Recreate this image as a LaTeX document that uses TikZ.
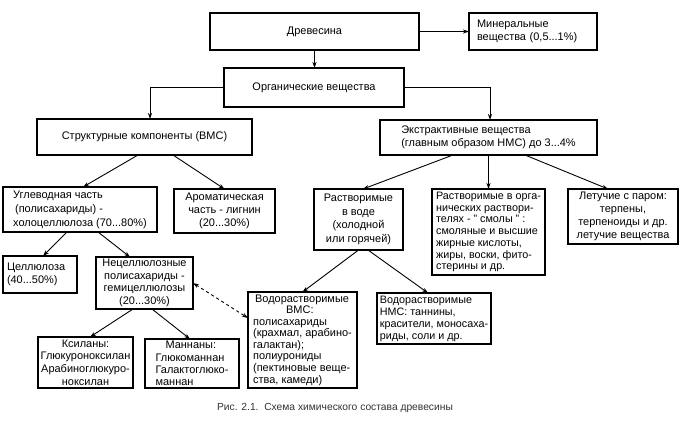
\documentclass[tikz,border=0pt]{standalone}
\usepackage{fontspec}
\setmainfont{Liberation Sans}
\usetikzlibrary{arrows.meta}
\begin{document}
\begin{tikzpicture}[x=1bp,y=-1bp,
 box/.style={draw, line width=1.1bp, inner sep=0pt, outer sep=0pt, anchor=north west, align=center, font=\fontsize{11}{12.5}\selectfont},
 lbox/.style={box, align=left},
 arr/.style={-{Stealth[length=6bp,width=4bp]}, line width=0.9bp},
 darr/.style={{Stealth[length=6bp,width=4bp]}-{Stealth[length=6bp,width=4bp]}, line width=0.9bp, dashed},
]
\useasboundingbox (0,0) rectangle (680,422);
% level 0
\node[box, minimum width=209bp, minimum height=37bp] (drev) at (210,13) {Древесина};
\node[lbox, minimum height=37bp, text width=112bp, inner xsep=8bp] (min) at (469,13) {Минеральные\\вещества (0,5...1\%)};
\node[box, minimum width=180bp, minimum height=39bp] (org) at (224,68) {Органические вещества};
% level 1
\node[box, minimum width=215bp, minimum height=36bp] (str) at (37,119) {Структурные компоненты (ВМС)};
\node[lbox, minimum width=217bp, minimum height=35bp] (ext) at (380,120) {Экстрактивные вещества\\(главным образом НМС) до 3...4\%};
% level 2 left
\node[lbox, minimum width=154bp, minimum height=45bp, font=\fontsize{11}{14}\selectfont] (ugl) at (3,187) {Углеводная часть\\\hspace*{2bp}(полисахариды) -\\холоцеллюлоза (70...80\%)};
\node[box, minimum width=101bp, minimum height=44bp, font=\fontsize{11}{13}\selectfont] (arom) at (174,189) {Ароматическая\\часть - лигнин\\(20...30\%)};
% level 2 right
\node[box, minimum width=89bp, minimum height=61bp, font=\fontsize{11}{13.5}\selectfont] (rv) at (314,189) {Растворимые\\в воде\\(холодной\\или горячей)};
\node[lbox, minimum width=113bp, minimum height=86bp, font=\fontsize{10.8}{11.8}\selectfont] (ro) at (432,189) {Растворимые в орга-\\нических раствори-\\телях - " смолы " :\\смоляные и высшие\\жирные кислоты,\\жиры, воски, фито-\\стерины и др.};
\node[box, minimum width=110bp, minimum height=55bp, font=\fontsize{11}{13}\selectfont] (let) at (568,189) {Летучие с паром:\\терпены,\\терпеноиды и др.\\летучие вещества};
% level 3 left
\node[lbox, minimum height=37bp, text width=66bp, inner xsep=4bp] (cell) at (3,256) {Целлюлоза\\(40...50\%)};
\node[box, minimum width=97bp, minimum height=52bp, font=\fontsize{11}{12.5}\selectfont] (necell) at (96,257) {Нецеллюлозные\\полисахариды -\\гемицеллюлозы\\(20...30\%)};
% level 3 right
\node[lbox, minimum width=109bp, minimum height=96bp, font=\fontsize{11}{11.6}\selectfont] (vms) at (248,292) {\hspace*{2bp}Водорастворимые\\\hspace*{33bp}ВМС:\\полисахариды\\(крахмал, арабино-\\галактан);\\полиурониды\\(пектиновые веще-\\ства, камеди)};
\node[lbox, minimum width=114bp, minimum height=51bp, font=\fontsize{10.8}{12}\selectfont] (nms) at (377,293) {Водорастворимые\\НМС: таннины,\\красители, моносаха-\\риды, соли и др.};
% level 4
\node[box, minimum width=95bp, minimum height=51bp, font=\fontsize{11}{12.8}\selectfont] (xyl) at (38,337) {Ксиланы:\\Глюкуроноксилан\\Арабиноглюкуро-\\ноксилан};
\node[lbox, minimum width=94bp, minimum height=49bp, font=\fontsize{11}{12.5}\selectfont] (mann) at (145,339) {\hspace*{10bp}Маннаны:\\Глюкоманнан\\Галактоглюко-\\маннан};
% caption
\node[font=\fontsize{10.3}{12}\selectfont, text=black!80] (cap) at (335,408) {Рис. 2.1.\ \ Схема химического состава древесины};
% connectors
\draw[arr] (drev.east) -- (min.west);
\draw[arr] (drev.south) -- (drev.south |- org.north);
\draw[arr] (org.west) -| ([xshift=5.5bp]str.north);
\draw[arr] (org.east) -| ([xshift=1.5bp]ext.north);
\draw[arr] ([xshift=-6.5bp]str.south) -- ([xshift=3bp]ugl.north);
\draw[arr] ([xshift=28.5bp]str.south) -- (arom.north);
\draw[arr] ([xshift=-35.5bp]ext.south) -- ([xshift=4.5bp]rv.north);
\draw[arr] (ext.south) -- (ro.north);
\draw[arr] ([xshift=36.5bp]ext.south) -- ([xshift=-15bp]let.north);
\draw[arr] ([xshift=-13bp]ugl.south) -- ([xshift=3bp]cell.north);
\draw[arr] ([xshift=18bp]ugl.south) -- ([xshift=-14.5bp]necell.north);
\draw[arr] ([xshift=-11.5bp]necell.south) -- ([xshift=4.5bp]xyl.north);
\draw[arr] ([xshift=7.5bp]necell.south) -- ([xshift=-2bp]mann.north);
\draw[arr] (rv.south) -- (vms.north);
\draw[arr] ([xshift=9.5bp]rv.south) -- ([xshift=-6bp]nms.north);
\draw[darr] (necell.east) -- ([yshift=22bp]vms.west);
\end{tikzpicture}
\end{document}
